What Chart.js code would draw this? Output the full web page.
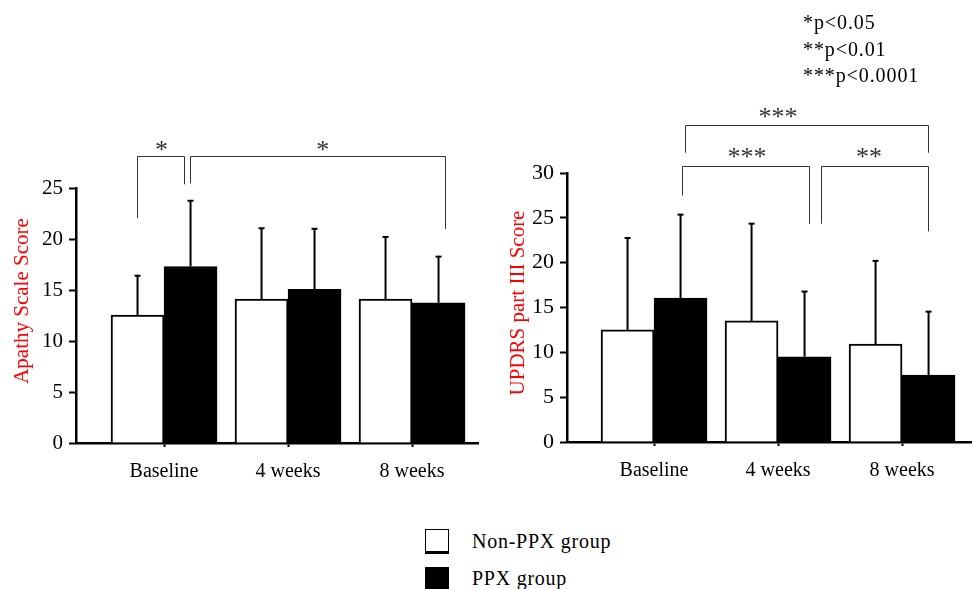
<!DOCTYPE html>
<html>
<head>
<meta charset="utf-8">
<script src="https://cdn.jsdelivr.net/npm/chart.js@4"></script>
<style>
body{margin:0;background:#fff;width:972px;height:589px;overflow:hidden;position:relative;font-family:"Liberation Serif","Times New Roman",serif;color:#000;}
#apathyChart{position:absolute;left:0;top:0;}
#updrsChart{position:absolute;left:486px;top:0;}
.notes{position:absolute;left:803px;top:9px;font-size:20px;line-height:26.5px;letter-spacing:0.9px;}
.key{position:absolute;left:425px;width:24px;box-sizing:border-box;}
.key.white{top:529px;height:25px;border:1.5px solid #000;border-bottom-width:3px;background:#fff;}
.key.black{top:567px;height:24px;background:#000;}
.keytext{position:absolute;left:472px;font-size:20px;line-height:22px;letter-spacing:0.75px;}
</style>
</head>
<body>
<canvas id="apathyChart" width="486" height="500"></canvas>
<canvas id="updrsChart" width="486" height="500"></canvas>

<div class="notes">*p&lt;0.05<br>**p&lt;0.01<br>***p&lt;0.0001</div>
<div class="key white"></div>
<div class="keytext" style="top:530px">Non-PPX group</div>
<div class="key black"></div>
<div class="keytext" style="top:567px">PPX group</div>

<script>
// ===========================
// DATA
// ===========================

const categories = ["Baseline", "4 weeks", "8 weeks"];

// Apathy Scale Score (mean, SD)
const apathyNonPpx = [12.55, 14.1, 14.1];
const apathyPpx = [17.3, 15.07, 13.75];
const apathyNonPpxSd = [3.85, 6.95, 6.1];
const apathyPpxSd = [6.45, 5.93, 4.52];

// UPDRS part III Score (mean, SD)
const updrsNonPpx = [12.5, 13.5, 10.93];
const updrsPpx = [16.04, 9.51, 7.46];
const updrsNonPpxSd = [10.25, 10.85, 9.27];
const updrsPpxSd = [9.32, 7.27, 7.08];

// Significance brackets (x in category units, y in score units)
const apathyBrackets = [
    {x1: -0.215, x2: 0.161, top: 28.1, y1: 22.06, y2: 25.36, label: "*", lx: -0.02, ly: 29.2},
    {x1: 0.212, x2: 2.268, top: 28.1, y1: 25.46, y2: 20.98, label: "*", lx: 1.28, ly: 29.2}
];
const updrsBrackets = [
    {x1: 0.25, x2: 2.21, top: 35.39, y1: 32.26, y2: 32.26, label: "***", lx: 1.0, ly: 36.77},
    {x1: 0.223, x2: 1.25, top: 30.76, y1: 27.48, y2: 24.35, label: "***", lx: 0.75, ly: 32.3},
    {x1: 1.347, x2: 2.21, top: 30.76, y1: 24.35, y2: 23.49, label: "**", lx: 1.734, ly: 32.3}
];

const serif = "'Liberation Serif', 'Times New Roman', serif";

// ===========================
// ERROR BARS, BRACKETS, TITLE
// ===========================

function makeAnnotations(sds, brackets, title, titleX, titleY){

    return {
        id: "annotations",
        afterDatasetsDraw(chart){

            const ctx = chart.ctx;
            const xs = chart.scales.x;
            const ys = chart.scales.y;

            ctx.save();

            // error bars (upper only)
            ctx.strokeStyle = "#000";
            ctx.lineWidth = 2;
            sds.forEach((sd, d) => {
                const meta = chart.getDatasetMeta(d);
                meta.data.forEach((bar, i) => {
                    const value = chart.data.datasets[d].data[i].y;
                    const end = ys.getPixelForValue(value + sd[i]);
                    ctx.beginPath();
                    ctx.moveTo(bar.x, bar.y);
                    ctx.lineTo(bar.x, end);
                    ctx.stroke();
                    ctx.beginPath();
                    ctx.moveTo(bar.x - 3, end);
                    ctx.lineTo(bar.x + 3, end);
                    ctx.stroke();
                });
            });

            // significance brackets
            ctx.strokeStyle = "#333";
            ctx.lineWidth = 1;
            ctx.fillStyle = "#333";
            ctx.font = "26px " + serif;
            ctx.textAlign = "center";
            ctx.textBaseline = "alphabetic";
            brackets.forEach(b => {
                const ax = Math.round(xs.getPixelForValue(b.x1)) + 0.5;
                const bx = Math.round(xs.getPixelForValue(b.x2)) + 0.5;
                const ty = Math.round(ys.getPixelForValue(b.top)) + 0.5;
                ctx.beginPath();
                ctx.moveTo(ax, ys.getPixelForValue(b.y1));
                ctx.lineTo(ax, ty);
                ctx.lineTo(bx, ty);
                ctx.lineTo(bx, ys.getPixelForValue(b.y2));
                ctx.stroke();
                ctx.fillText(b.label, xs.getPixelForValue(b.lx), ys.getPixelForValue(b.ly) + 13);
            });

            // axis title
            ctx.fillStyle = "#ff0000";
            ctx.font = "21px " + serif;
            ctx.textBaseline = "middle";
            ctx.translate(titleX, titleY);
            ctx.rotate(-Math.PI / 2);
            ctx.fillText(title, 0, 0);

            ctx.restore();
        }
    };
}

// ===========================
// CHARTS
// ===========================

function makeChart(cfg){

    const points = vals => vals.map((v, i) => ({x: i, y: v}));

    return new Chart(document.getElementById(cfg.id), {

        type: "bar",

        data: {
            datasets: [
                {
                    label: "Non-PPX group",
                    data: points(cfg.nonPpx),
                    backgroundColor: "#fff",
                    borderColor: "#000",
                    borderWidth: 2,
                    barThickness: 53
                },
                {
                    label: "PPX group",
                    data: points(cfg.ppx),
                    backgroundColor: "#000",
                    borderColor: "#000",
                    borderWidth: 2,
                    barThickness: 53
                }
            ]
        },

        options: {
            responsive: false,
            animation: false,
            layout: {
                padding: {top: cfg.top, right: cfg.right, left: 0, bottom: 0}
            },
            plugins: {
                legend: {display: false},
                tooltip: {enabled: false}
            },
            scales: {
                x: {
                    type: "linear",
                    offset: false,
                    bounds: "data",
                    min: cfg.xMin,
                    max: cfg.xMax,
                    afterBuildTicks: s => {
                        s.ticks = categories.map((c, i) => ({value: i}));
                    },
                    afterFit: s => {
                        s.height = cfg.xHeight;
                    },
                    ticks: {
                        callback: v => categories[v],
                        color: "#000",
                        font: {family: serif, size: 20},
                        padding: 13,
                        maxRotation: 0,
                        autoSkip: false
                    },
                    grid: {
                        offset: false,
                        drawOnChartArea: false,
                        tickLength: 4,
                        tickWidth: 2,
                        color: "#000"
                    },
                    border: {color: "#000", width: 2.5}
                },
                y: {
                    min: 0,
                    max: cfg.yMax,
                    afterFit: s => {
                        s.width = cfg.yWidth;
                    },
                    ticks: {
                        stepSize: 5,
                        color: "#000",
                        font: {family: serif, size: cfg.tickSize},
                        padding: 6
                    },
                    grid: {
                        drawOnChartArea: false,
                        tickLength: 7,
                        tickWidth: 2,
                        color: "#000"
                    },
                    border: {color: "#000", width: 2.5}
                }
            }
        },

        plugins: [makeAnnotations(cfg.sds, cfg.brackets, cfg.title, cfg.titleX, cfg.titleY)]

    });
}

// Apathy Chart
makeChart({
    id: "apathyChart",
    nonPpx: apathyNonPpx,
    ppx: apathyPpx,
    sds: [apathyNonPpxSd, apathyPpxSd],
    brackets: apathyBrackets,
    title: "Apathy Scale Score",
    titleX: 22,
    titleY: 301,
    yMax: 25,
    xMin: -0.71,
    xMax: 2.532,
    top: 188,
    right: 8,
    yWidth: 76,
    xHeight: 57,
    tickSize: 21
});

// UPDRS Chart
makeChart({
    id: "updrsChart",
    nonPpx: updrsNonPpx,
    ppx: updrsPpx,
    sds: [updrsNonPpxSd, updrsPpxSd],
    brackets: updrsBrackets,
    title: "UPDRS part III Score",
    titleX: 32,
    titleY: 303,
    yMax: 30,
    xMin: -0.702,
    xMax: 2.564,
    top: 173,
    right: 0,
    yWidth: 81,
    xHeight: 58,
    tickSize: 22
});
</script>
</body>
</html>
